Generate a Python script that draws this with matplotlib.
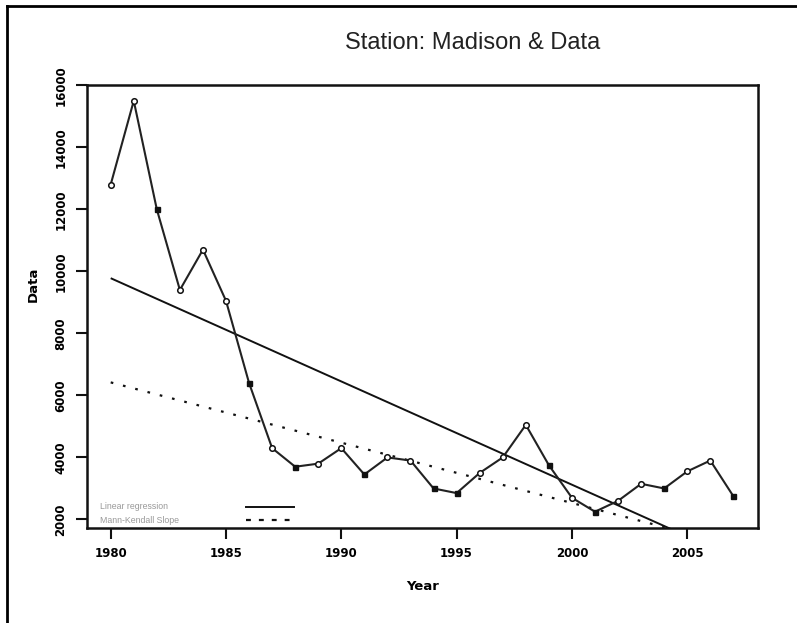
import matplotlib as mpl
mpl.use('Agg')
import matplotlib.pyplot as plt
from matplotlib.lines import Line2D

# data #######################################

years = list(range(1980, 2008))
values = [12800, 15500, 12000, 9400, 10700, 9050, 6400, 4300, 3700, 3800,
          4300, 3450, 4000, 3900, 3000, 2850, 3500, 4000, 5050, 3750,
          2700, 2250, 2600, 3150, 3000, 3550, 3900, 2750]

trend_years = [1980, 2007]
linear_trend = [9780, 790]     # linear regression line ends
mk_trend = [6420, 1170]        # Mann-Kendall (Sen) slope line ends

x_ticks = [1980, 1985, 1990, 1995, 2000, 2005]
y_ticks = [2000, 4000, 6000, 8000, 10000, 12000, 14000, 16000]

# years drawn with a filled square instead of an open circle
filled = [1982, 1986, 1988, 1991, 1994, 1995, 1999, 2001, 2004, 2007]

tick_font = dict(family=['Liberation Sans Narrow', 'DejaVu Sans'], weight='bold', size=8.5)
label_font = dict(family=['Liberation Sans Narrow', 'DejaVu Sans'], weight='bold', size=9.5)

fig = plt.figure(figsize=(7.97, 6.23), dpi=100)
ax = fig.add_axes([0.1088, 0.1525, 0.8426, 0.7106])

ax.plot(trend_years, linear_trend, color='#111111', lw=1.4, solid_capstyle='butt')
ax.plot(trend_years, mk_trend, color='#111111', lw=1.6, linestyle=(0, (1.2, 4.5)))

ax.plot(years, values, color='#222222', lw=1.5, zorder=3)
open_x = [y for y in years if y not in filled]
open_v = [v for y, v in zip(years, values) if y not in filled]
fill_x = [y for y in years if y in filled]
fill_v = [v for y, v in zip(years, values) if y in filled]
ax.plot(open_x, open_v, 'o', ms=4, mfc='white', mec='#111111', mew=1.1, zorder=4)
ax.plot(fill_x, fill_v, 's', ms=3.6, mfc='#111111', mec='#111111', zorder=4)

ax.set_xlim(1978.96, 2008.08)
ax.set_ylim(1725, 16000)
ax.set_xticks(x_ticks)
ax.set_yticks(y_ticks)
ax.set_xticklabels([str(t) for t in x_ticks], fontdict=tick_font)
ax.set_yticklabels([str(t) for t in y_ticks], fontdict=tick_font, rotation=90, va='center')
ax.tick_params(direction='out', length=8, width=1.5, color='#111111', pad=6)
for s in ax.spines.values():
    s.set_linewidth(1.8)
    s.set_color('#111111')

ax.set_xlabel('Year', fontdict=label_font, labelpad=14)
ax.set_ylabel('Data', fontdict=label_font)
ax.yaxis.set_label_coords(-0.07, 0.55)

# key in the lower left corner
key_font = dict(family=['Liberation Sans', 'DejaVu Sans'], size=6.3, color='#999999')
ax.text(0.02, 0.048, 'Linear regression', transform=ax.transAxes, va='center', **key_font)
ax.text(0.02, 0.018, 'Mann-Kendall Slope', transform=ax.transAxes, va='center', **key_font)
ax.add_line(Line2D([0.237, 0.308], [0.048, 0.048], transform=ax.transAxes, color='#111111', lw=1.4))
ax.add_line(Line2D([0.237, 0.308], [0.018, 0.018], transform=ax.transAxes, color='#111111', lw=1.6,
                   linestyle=(0, (2.2, 3.6))))

fig.text(0.593, 0.931, 'Station: Madison & Data', ha='center', va='center',
         family=['Liberation Sans', 'DejaVu Sans'], size=17, color='#222222')

# window frame on the left and top edges
fig.add_artist(Line2D([0.0084, 0.0084], [0, 0.991], transform=fig.transFigure, color='black', lw=2))
fig.add_artist(Line2D([0.0084, 1], [0.991, 0.991], transform=fig.transFigure, color='black', lw=2))

fig.savefig('out.png', dpi=100)
